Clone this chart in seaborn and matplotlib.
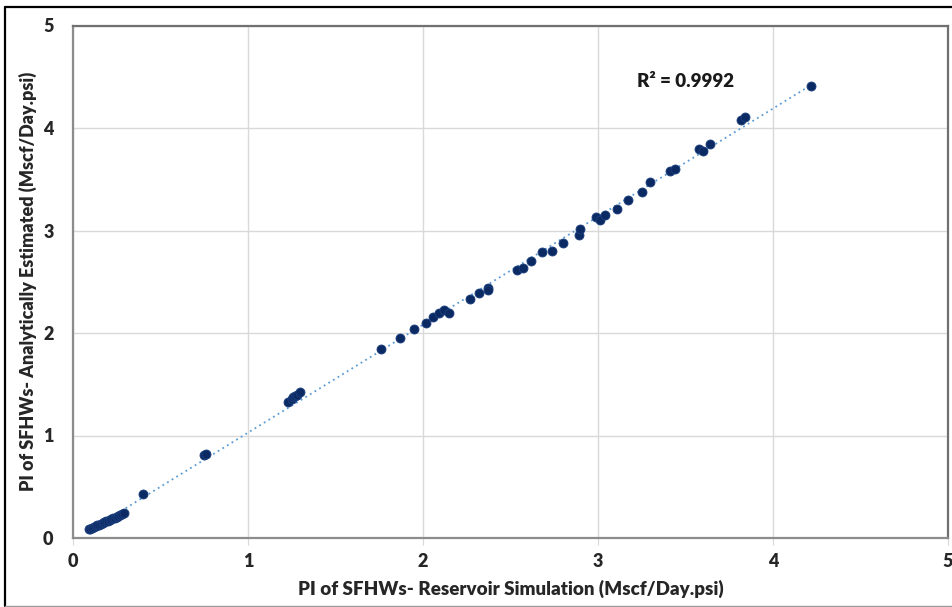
import numpy as np
import pandas as pd
import matplotlib
matplotlib.use("Agg")
import matplotlib.pyplot as plt
from matplotlib.lines import Line2D
import seaborn as sns

# Productivity index of single-fractured horizontal wells (Mscf/Day.psi)
sim_pi = [
    0.09, 0.10, 0.11, 0.12, 0.13, 0.14, 0.15, 0.16, 0.17, 0.18, 0.19,
    0.20, 0.21, 0.22, 0.23, 0.24, 0.25, 0.26, 0.27, 0.28, 0.29,
    0.40, 0.75, 0.76,
    1.23, 1.25, 1.26, 1.27, 1.28, 1.30,
    1.76, 1.87, 1.95, 2.02, 2.06, 2.09, 2.12, 2.15, 2.27, 2.32, 2.37, 2.37,
    2.54, 2.57, 2.62, 2.68, 2.74, 2.80, 2.89, 2.90, 2.99, 3.01, 3.04,
    3.11, 3.17, 3.25, 3.30, 3.41, 3.44, 3.58, 3.60, 3.64, 3.82, 3.84, 4.22,
]
analytic_pi = [
    0.085, 0.092, 0.100, 0.108, 0.115, 0.123, 0.130, 0.138, 0.146, 0.153, 0.161,
    0.168, 0.176, 0.184, 0.191, 0.199, 0.206, 0.214, 0.222, 0.230, 0.240,
    0.426, 0.81, 0.82,
    1.33, 1.36, 1.38, 1.39, 1.40, 1.42,
    1.84, 1.95, 2.04, 2.10, 2.16, 2.20, 2.22, 2.20, 2.33, 2.39, 2.44, 2.42,
    2.61, 2.63, 2.70, 2.79, 2.80, 2.88, 2.96, 3.01, 3.13, 3.10, 3.15,
    3.21, 3.30, 3.38, 3.47, 3.58, 3.60, 3.80, 3.78, 3.84, 4.08, 4.11, 4.41,
]
axis_ticks = [0, 1, 2, 3, 4, 5]
r2_label = "R² = 0.9992"

df = pd.DataFrame({"sim": sim_pi, "analytic": analytic_pi})

sns.set_style("white")
plt.rcParams["font.family"] = ["Lato", "DejaVu Sans"]

fig = plt.figure(figsize=(9.53, 6.07), dpi=100)
ax = fig.add_axes([73 / 953, 1 - 538 / 607, (948 - 73) / 953, (538 - 25.5) / 607])

# dotted linear trendline over the data range
sns.regplot(data=df, x="sim", y="analytic", scatter=False, ci=None, truncate=True,
            ax=ax, line_kws=dict(color="#5B9BD5", lw=1.3, ls=(0, (1, 2))))
sns.scatterplot(data=df, x="sim", y="analytic", ax=ax, s=42, color="#0B2A63",
                edgecolor="#1C3F7E", linewidth=0.6, zorder=3)

ax.set_xlim(0, 5)
ax.set_ylim(0, 5)
ax.set_xticks(axis_ticks)
ax.set_yticks(axis_ticks)
ax.set_xticklabels([str(t) for t in axis_ticks], fontsize=13, fontweight="heavy")
ax.set_yticklabels([str(t) for t in axis_ticks], fontsize=13, fontweight="heavy")
ax.grid(True, color="#D9D9D9", lw=1)
ax.set_axisbelow(True)
ax.tick_params(axis="x", length=5, color="#D9D9D9", pad=6, direction="out", bottom=True)
ax.tick_params(axis="y", length=0, pad=14)

for side in ["left", "bottom"]:
    ax.spines[side].set_color("#8C8C8C")
    ax.spines[side].set_linewidth(1.6)
for side in ["top", "right"]:
    ax.spines[side].set_color("#707070")
    ax.spines[side].set_linewidth(1.6)

ax.set_xlabel("PI of SFHWs- Reservoir Simulation (Mscf/Day.psi)",
              fontsize=13.5, fontweight="heavy", labelpad=7)
ax.set_ylabel("PI of SFHWs- Analytically Estimated (Mscf/Day.psi)",
              fontsize=13, fontweight="heavy", labelpad=4)

ax.text(3.5, 4.45, r2_label, fontsize=13.5, fontweight="heavy", color="#1A1A1A",
        ha="center", va="center")

# outer border of the figure
fig.add_artist(Line2D([5.5 / 953, 1.0], [1 - 7 / 607, 1 - 7 / 607], color="black", lw=1.6))
fig.add_artist(Line2D([5.5 / 953, 5.5 / 953], [1 - 7 / 607, 1 - 605.5 / 607], color="black", lw=1.6))
fig.add_artist(Line2D([5.5 / 953, 1.0], [1 - 605.5 / 607, 1 - 605.5 / 607], color="#9A9A9A", lw=1.0))

fig.savefig("out.png", dpi=100)
